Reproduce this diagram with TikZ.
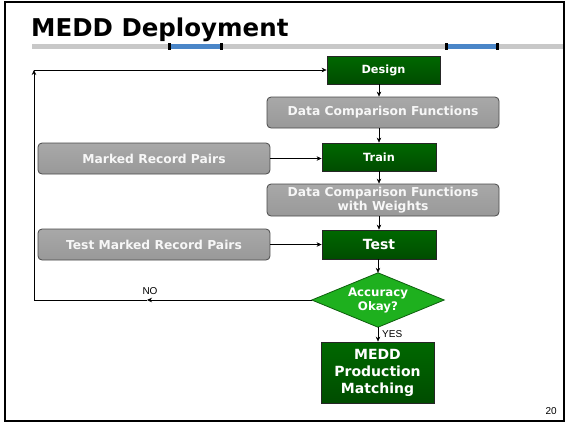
\documentclass[tikz,border=0pt]{standalone}
\usepackage{fontspec}
\setmainfont{DejaVu Sans}
\newfontfamily\arialfont{Liberation Sans}
\usetikzlibrary{arrows.meta,backgrounds}
\definecolor{rulegray}{HTML}{C8C8C8}
\definecolor{ruleblue}{HTML}{4A86C8}
\definecolor{boxgreen}{HTML}{006800}
\definecolor{boxgreendk}{HTML}{004C00}
\definecolor{diagreen}{HTML}{1EB01E}
\definecolor{diaedge}{HTML}{0D5E0D}
\definecolor{graytop}{HTML}{A8A8A8}
\definecolor{graybot}{HTML}{999999}
\definecolor{grayedge}{HTML}{4A4A4A}
\begin{document}
\begin{tikzpicture}[x=1pt,y=-1pt,
  greenbox/.style={draw=black!85, line width=0.8pt, top color=boxgreen, bottom color=boxgreendk,
    text=white, inner sep=0pt, align=center, minimum width=114pt, minimum height=28pt,
    font=\bfseries\fontsize{11.3}{13}\selectfont},
  graybox/.style={draw=grayedge, line width=0.8pt, rounded corners=4pt, top color=graytop, bottom color=graybot,
    text=white!94!gray, inner sep=0pt, align=center, minimum width=232pt, minimum height=31pt,
    font=\bfseries\fontsize{12.3}{14.5}\selectfont},
  decision/.style={inner sep=0pt, minimum width=132pt, minimum height=54pt, align=center, text=white,
    font=\bfseries\fontsize{11.8}{14}\selectfont},
  flow/.style={line width=0.6pt, -{Stealth[length=5pt,width=4.5pt]}},
  plain/.style={line width=0.6pt},
  smalllabel/.style={inner sep=0pt, font=\arialfont\fontsize{10}{12}\selectfont}]
\useasboundingbox (0,0) rectangle (567,424);
% slide frame
\draw[line width=2pt] (4.5,2) rectangle (564,420.5);
% title and rule
\node[anchor=base west, inner sep=0pt, font=\bfseries\fontsize{24.5}{28}\selectfont] (title) at (31,36) {MEDD Deployment};
\fill[rulegray] (32,44) rectangle (563,48.5);
\fill[ruleblue] (169,44) rectangle (220,48.5);
\fill[ruleblue] (446,44) rectangle (496,48.5);
\foreach \tx in {167.5,219.5,444.5,495.5}
  \fill[black] (\tx,42.5) rectangle ++(3,7.5);
% flow nodes
\node[greenbox, minimum width=113pt] (design) at (383.5,70) {Design};
\node[graybox] (dcf1) at (383,112.5) {Data Comparison Functions};
\node[greenbox] (train) at (379,157) {Train};
\node[graybox, minimum height=32pt] (dcf2) at (383,200) {Data Comparison Functions\\with Weights};
\node[graybox] (mrp) at (154,158.5) {Marked Record Pairs};
\node[graybox] (tmrp) at (154,244.5) {Test Marked Record Pairs};
\node[greenbox, minimum height=29pt, font=\bfseries\fontsize{14}{16}\selectfont] (test) at (379,244.5) {Test};
\node[decision] (acc) at (378,300) {Accuracy\\Okay?};
\begin{scope}[on background layer]
  \draw[line width=0.8pt, draw=diaedge, fill=diagreen]
    (acc.west) -- (acc.north) -- (acc.east) -- (acc.south) -- cycle;
\end{scope}
\node[greenbox, minimum width=113pt, minimum height=61pt, font=\bfseries\fontsize{14}{17}\selectfont] (prod) at (377.5,372.5) {MEDD\\Production\\Matching};
% connectors
\draw[flow] (design.south -| train.north) -- (dcf1.north -| train.north);
\draw[flow] (dcf1.south -| train.north) -- (train.north);
\draw[flow] (train.south) -- (dcf2.north -| train.south);
\draw[flow] (dcf2.south -| train.south) -- (test.north);
\draw[flow] (mrp.east) -- (mrp.east -| train.west);
\draw[flow] (tmrp.east) -- (tmrp.east -| test.west);
\draw[flow] (test.south -| acc.north) -- (acc.north);
\draw[flow] (acc.south) -- (acc.south |- prod.north);
% loop back on failure
\coordinate (nomid) at (147,300);
\coordinate (loopbot) at (34,300);
\coordinate (looptop) at (34,70);
\draw[flow] (acc.west) -- (nomid);
\draw[plain] (nomid) -- (loopbot);
\draw[flow] (loopbot) -- (looptop);
\draw[flow] (looptop) -- (design.west);
\node[smalllabel, anchor=base] (nolabel) at (150,294) {NO};
\node[smalllabel, anchor=base west] (yeslabel) at (382,337) {YES};
\node[smalllabel, anchor=base east] (pagenum) at (557,414) {20};
\end{tikzpicture}
\end{document}
